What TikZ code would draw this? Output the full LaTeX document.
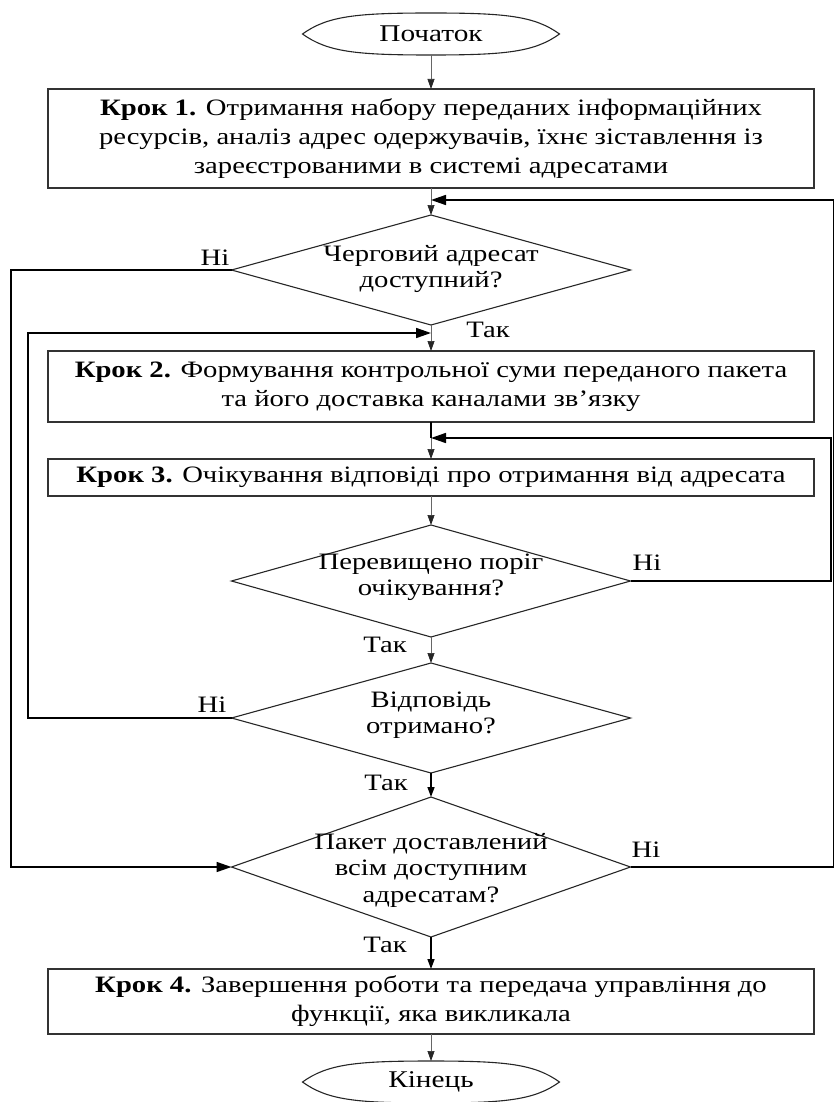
\documentclass[tikz,border=0pt]{standalone}
\usepackage{fontspec}
\setmainfont[FakeStretch=1.22]{Liberation Serif}
\usetikzlibrary{arrows.meta,shapes.geometric,calc}
\newcommand\termshape[1]{%
  \draw[termline] (#1.west) .. controls ($(#1.west)+(25,-18)$) and ($(#1.north)+(-75,0)$) .. (#1.north)
    .. controls ($(#1.north)+(75,0)$) and ($(#1.east)+(-25,-18)$) .. (#1.east)
    .. controls ($(#1.east)+(-25,18)$) and ($(#1.south)+(75,0)$) .. (#1.south)
    .. controls ($(#1.south)+(-75,0)$) and ($(#1.west)+(25,18)$) .. (#1.west) -- cycle;}
\begin{document}
\begin{tikzpicture}[x=1pt,y=-1pt,
  txt/.style={font=\fontsize{23.5}{29}\selectfont},
  stepbox/.style={txt, draw=black!80, line width=1.3pt, minimum width=766pt, align=center, inner sep=0pt, outer sep=0pt},
  dia/.style={draw=black!85, line width=1.1pt, diamond, inner sep=0pt, outer sep=0pt, minimum width=399pt},
  dtext/.style={font=\fontsize{23.5}{26.5}\selectfont, align=center, inner sep=0pt},
  lbl/.style={txt, inner sep=0pt},
  term/.style={minimum width=257pt, minimum height=42pt, inner sep=0pt, outer sep=0pt, font=\fontsize{24}{28}\selectfont},
  termline/.style={draw=black!85, line width=1.1pt},
  flow/.style={draw=black!60, line width=0.7pt, -{Triangle[length=10pt,width=7pt,color=black!85]}},
  flowthick/.style={draw=black, line width=1.5pt, -{Triangle[length=10pt,width=7pt]}},
  seg/.style={draw=black, line width=1.5pt},
  loopline/.style={draw=black, line width=1.6pt, -{Triangle[length=15pt,width=10pt]}}
]
\useasboundingbox (0,0) rectangle (834,1102);

% terminals
\node[term] (s) at (431,34) {Початок};
\termshape{s}
\node[term] (e) at (431,1082) {Кінець};
\termshape{e}

% boxes
\node[stepbox, minimum height=99pt] (b1) at (431,138.5)
  {\textbf{Крок 1.} Отримання набору переданих інформаційних\\ресурсів, аналіз адрес одержувачів, їхнє зіставлення із\\зареєстрованими в системі адресатами};
\node[stepbox, minimum height=71pt] (b2) at (431,386.5)
  {\textbf{Крок 2.} Формування контрольної суми переданого пакета\\та його доставка каналами зв’язку};
\node[stepbox, minimum height=37pt] (b3) at (431,477.5)
  {\textbf{Крок 3.} Очікування відповіді про отримання від адресата};
\node[stepbox, minimum height=65pt] (b4) at (431,1001.5)
  {\textbf{Крок 4.} Завершення роботи та передача управління до\\функції, яка викликала};

% diamonds
\node[dia, minimum height=110pt] (d1) at (431,270) {};
\node[dtext] (t1) at (431,269) {Черговий адресат\\доступний?};
\node[dia, minimum height=112pt] (d2) at (431,581) {};
\node[dtext] (t2) at (431,577) {Перевищено поріг\\очікування?};
\node[dia, minimum height=110pt] (d3) at (431,718) {};
\node[dtext] (t3) at (431,715) {Відповідь\\отримано?};
\node[dia, minimum height=140pt] (d4) at (431,867) {};
\node[dtext] (t4) at (431,870) {Пакет доставлений\\всім доступним\\адресатам?};

% labels
\node[lbl] (n1) at (215,258) {Ні};
\node[lbl] (y1) at (488,330) {Так};
\node[lbl] (n2) at (647,563) {Ні};
\node[lbl] (y2) at (385,645) {Так};
\node[lbl] (n3) at (212,705) {Ні};
\node[lbl] (y3) at (386,783) {Так};
\node[lbl] (n4) at (646,850) {Ні};
\node[lbl] (y4) at (385,945) {Так};

% helper coordinates
\coordinate (j1) at (431,200);
\coordinate (j2) at (431,333);
\coordinate (j3) at (431,438);
\coordinate (xl1) at (11,0);
\coordinate (xl2) at (28,0);
\coordinate (xr1) at (834,0);
\coordinate (xr2) at (831,0);

% main flow
\draw[flow] (s.south) -- (b1.north);
\draw[flow] (b1.south) -- (d1.north);
\draw[flow] (d1.south) -- (b2.north);
\draw[seg] (b2.south) -- (j3);
\draw[flow] (j3) -- (b3.north);
\draw[flow] (b3.south) -- (d2.north);
\draw[flow] (d2.south) -- (d3.north);
\draw[flowthick] (d3.south) -- (d4.north);
\draw[flowthick] (d4.south) -- (b4.north);
\draw[flow] (b4.south) -- (e.north);

% loops
\draw[loopline] (d4.east) -| (xr1 |- j1) -- (j1);
\draw[loopline] (d1.west) -| (xl1 |- d4.west) -- (d4.west);
\draw[loopline] (d3.west) -| (xl2 |- j2) -- (j2);
\draw[loopline] (d2.east) -| (xr2 |- j3) -- (j3);
\end{tikzpicture}
\end{document}
